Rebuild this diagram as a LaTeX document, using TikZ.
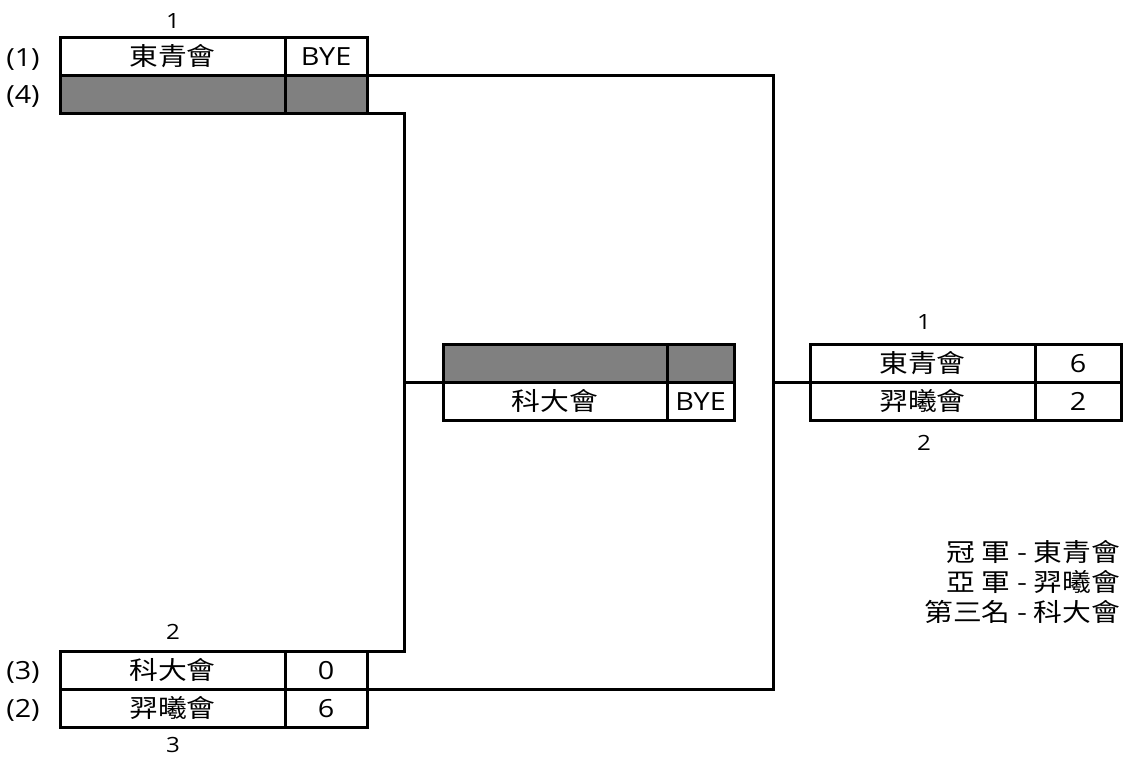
\documentclass[tikz,border=0pt]{standalone}
\usepackage{fontspec}
\setmainfont{Open Sans}[FakeStretch=1.15]
\newfontfamily\cjk{Noto Sans CJK TC}[FakeStretch=1.15]
\begin{document}
\begin{tikzpicture}[x=1pt,y=-1pt,
  cell/.style={draw=black, line width=3pt, rectangle, inner sep=0pt, outer sep=0pt,
    minimum height=38pt, text height=18pt, text depth=0pt,
    font=\fontsize{25}{29}\selectfont},
  namecell/.style={cell, minimum width=225pt},
  bye/.style={fill=fillgray},
  lbl/.style={inner sep=0pt, text height=18pt, text depth=0pt, font=\fontsize{25}{29}\selectfont},
  seed/.style={inner sep=0pt, text height=15pt, text depth=0pt, font=\fontsize{21}{25}\selectfont},
  conn/.style={draw=black, line width=3pt}]
\definecolor{fillgray}{HTML}{808080}
\useasboundingbox (0,0) rectangle (1123,761);
% top match
\node[namecell] (tn1) at (172.5,56) {\cjk 東青會};
\node[cell, minimum width=82pt] (ts1) at (326,56) {BYE};
\node[namecell, bye] (tn2) at (172.5,94) {};
\node[cell, minimum width=82pt, bye] (ts2) at (326,94) {};
\node[seed] (tl) at (173,20.5) {1};
\node[lbl] (p1) at (23,57) {(1)};
\node[lbl] (p4) at (23,94) {(4)};
% bottom match
\node[namecell] (bn1) at (172.5,670) {\cjk 科大會};
\node[cell, minimum width=82pt] (bs1) at (326,670) {0};
\node[namecell] (bn2) at (172.5,708) {\cjk 羿曦會};
\node[cell, minimum width=82pt] (bs2) at (326,708) {6};
\node[seed] (bl1) at (173,632) {2};
\node[seed] (bl2) at (173,745) {3};
\node[lbl] (p3) at (23,670) {(3)};
\node[lbl] (p2) at (23,708) {(2)};
% middle match
\node[cell, minimum width=224pt, bye] (mn1) at (555,363) {};
\node[cell, minimum width=67pt, bye] (ms1) at (700.5,363) {};
\node[cell, minimum width=224pt] (mn2) at (555,401) {\cjk 科大會};
\node[cell, minimum width=67pt] (ms2) at (700.5,401) {BYE};
% final
\node[namecell] (rn1) at (922.5,363) {\cjk 東青會};
\node[cell, minimum width=86pt] (rs1) at (1078,363) {6};
\node[namecell] (rn2) at (922.5,401) {\cjk 羿曦會};
\node[cell, minimum width=86pt] (rs2) at (1078,401) {2};
\node[seed] (rl1) at (924,322) {1};
\node[seed] (rl2) at (924,443) {2};
% connectors
\coordinate (jL) at (404,382);
\coordinate (jR) at (773,382);
\draw[conn] (ts2.south east) -| (jL) |- (bs1.north east);
\draw[conn] (jL) -- (mn1.south west);
\draw[conn] (ts1.south east) -| (jR) |- (bs1.south east);
\draw[conn] (jR) -- (rn1.south west);
% results
\node[inner sep=0pt, anchor=north east, align=right, font=\fontsize{25}{30}\selectfont] (res) at (1120,540)
  {\cjk 冠 軍 - 東青會\\\cjk 亞 軍 - 羿曦會\\\cjk 第三名 - 科大會};
\end{tikzpicture}
\end{document}
